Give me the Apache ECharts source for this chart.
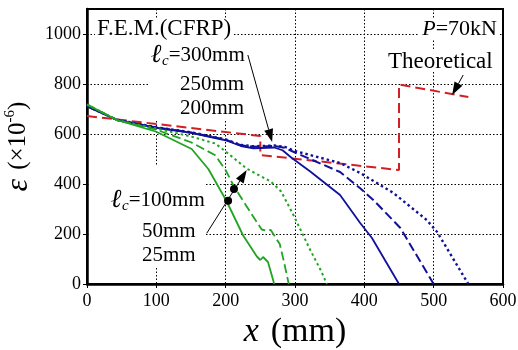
<!DOCTYPE html>
<html>
<head>
<meta charset="utf-8">
<script src="https://cdn.jsdelivr.net/npm/echarts@6/dist/echarts.min.js"></script>
<style>
  html, body { margin: 0; padding: 0; background: #fff; }
  #chart { width: 518px; height: 350px; }
</style>
</head>
<body>
<div id="chart"></div>
<script>
const xTicks = [0, 100, 200, 300, 400, 500, 600];
const yTicks = [0, 200, 400, 600, 800, 1000];
const yTop = 1100;

// theoretical (red dashed)
const theoX = [0, 250, 250, 450, 450, 550];
const theoY = [672, 592, 516, 456, 798, 748];

// F.E.M. blue group
const blueSolidX = [0, 43, 100, 150, 200, 222, 240, 270, 282, 295, 322, 365, 394, 411, 450];
const blueSolidY = [710, 656, 625, 605, 575, 552, 543, 546, 535, 505, 450, 356, 244, 184, 0];
const blueDashX = [0, 43, 100, 150, 200, 222, 240, 270, 285, 300, 365, 394, 413, 452, 500];
const blueDashY = [712, 657, 626, 606, 577, 555, 549, 552, 545, 526, 448, 383, 336, 224, 0];
const blueDotX = [0, 43, 100, 150, 200, 222, 240, 270, 285, 300, 365, 394, 442, 490, 505, 550];
const blueDotY = [712, 657, 627, 607, 578, 556, 551, 554, 549, 532, 484, 444, 364, 256, 208, 0];

// F.E.M. green group
const greenSolidX = [0, 43, 100, 151, 175, 201, 225, 245, 250, 254, 261, 266, 270];
const greenSolidY = [718, 656, 609, 540, 460, 333, 195, 110, 96, 108, 88, 40, 0];
const greenDashX = [0, 43, 100, 150, 185, 200, 212, 235, 252, 258, 265, 278, 284, 291];
const greenDashY = [718, 656, 617, 567, 515, 455, 390, 290, 218, 214, 216, 160, 90, 0];
const greenDotX = [0, 43, 100, 150, 185, 200, 230, 250, 265, 280, 297, 322, 338, 346];
const greenDotY = [718, 656, 622, 590, 562, 530, 462, 432, 410, 370, 280, 136, 50, 0];

// annotation arrows [fromX, fromY, toX, toY] and dots, in data units
const arrows = [[232, 916, 267, 568], [542.6, 836, 526.7, 756], [172.7, 203, 230.4, 456]];
const dots = [[203.5, 333], [212, 380]];

const RED = "#d21f26";
const BLUE = "#10109c";
const GREEN = "#22a322";
const FONT = "Liberation Serif";

function pairs(xs, ys) {
  return xs.map((x, i) => [x, ys[i]]);
}

function line(name, xs, ys, color, type, width) {
  return {
    name,
    type: "line",
    data: pairs(xs, ys),
    symbol: "none",
    z: 3,
    lineStyle: { color, type, width },
    itemStyle: { color },
  };
}

const chart = echarts.init(document.getElementById("chart"));

chart.setOption({
  animation: false,
  backgroundColor: "#fff",
  grid: {
    left: 87, right: 15, top: 9, bottom: 66,
    containLabel: false, outerBoundsMode: "none",
    show: true, borderColor: "#000", borderWidth: 2, backgroundColor: "transparent",
  },
  xAxis: {
    type: "value",
    min: xTicks[0],
    max: xTicks[xTicks.length - 1],
    interval: xTicks[1] - xTicks[0],
    name: "{x|x}{sp| }{t|(mm)}",
    nameLocation: "middle",
    nameGap: 27,
    nameTextStyle: {
      rich: {
        x: { fontFamily: FONT, fontSize: 34, fontStyle: "italic", color: "#000" },
        sp: { fontFamily: FONT, fontSize: 34, width: 12, color: "#000" },
        t: { fontFamily: FONT, fontSize: 34, color: "#000" },
      },
    },
    axisLine: { lineStyle: { color: "#000", width: 2.5 } },
    axisTick: { inside: false, length: 4, lineStyle: { color: "#000" } },
    axisLabel: { color: "#000", fontFamily: FONT, fontSize: 18, margin: 8, formatter: (v) => String(v) },
    splitLine: { lineStyle: { color: "#000", type: [1.5, 2], width: 1 } },
  },
  yAxis: {
    type: "value",
    min: yTicks[0],
    max: yTop,
    interval: yTicks[1] - yTicks[0],
    name: "{e|ε}{sp| }{t|(×10}{s|-6}{t|)}",
    nameLocation: "middle",
    nameRotate: 90,
    nameGap: 41,
    nameTextStyle: {
      rich: {
        e: { fontFamily: FONT, fontSize: 32, fontStyle: "italic", color: "#000" },
        sp: { fontFamily: FONT, fontSize: 25, width: 9, color: "#000" },
        t: { fontFamily: FONT, fontSize: 25, color: "#000" },
        s: { fontFamily: FONT, fontSize: 15, color: "#000", verticalAlign: "top", padding: [0, 0, 10, 0] },
      },
    },
    axisLine: { lineStyle: { color: "#000", width: 2.5 } },
    axisTick: { inside: false, length: 4, lineStyle: { color: "#000" } },
    axisLabel: { color: "#000", fontFamily: FONT, fontSize: 18, margin: 6, showMaxLabel: false, formatter: (v) => String(v) },
    splitLine: { lineStyle: { color: "#000", type: [1.5, 2], width: 1 } },
  },
  series: [
    line("Theoretical", theoX, theoY, RED, [10, 5], 2),
    line("blue solid", blueSolidX, blueSolidY, BLUE, "solid", 1.8),
    line("blue dashed", blueDashX, blueDashY, BLUE, [9, 4], 2),
    line("blue dotted", blueDotX, blueDotY, BLUE, [2.5, 3], 2.4),
    line("green solid", greenSolidX, greenSolidY, GREEN, "solid", 1.8),
    line("green dashed", greenDashX, greenDashY, GREEN, [9, 4], 1.8),
    line("green dotted", greenDotX, greenDotY, GREEN, [2.5, 3], 2),
  ],
});

function toPx(p) {
  return chart.convertToPixel({ gridIndex: 0 }, p);
}

function arrowShapes(a) {
  const p0 = toPx([a[0], a[1]]);
  const p1 = toPx([a[2], a[3]]);
  const dx = p1[0] - p0[0];
  const dy = p1[1] - p0[1];
  const len = Math.sqrt(dx * dx + dy * dy);
  const ux = dx / len;
  const uy = dy / len;
  const hl = 13;
  const hw = 4.5;
  const bx = p1[0] - ux * hl;
  const by = p1[1] - uy * hl;
  return [
    { type: "line", z: 10, shape: { x1: p0[0], y1: p0[1], x2: bx, y2: by }, style: { stroke: "#000", lineWidth: 1 } },
    {
      type: "polygon",
      z: 10,
      shape: { points: [[p1[0], p1[1]], [bx - uy * hw, by + ux * hw], [bx + uy * hw, by - ux * hw]] },
      style: { fill: "#000" },
    },
  ];
}

function label(x, y, text, rich, align) {
  return {
    type: "text",
    z: 8,
    x,
    y,
    style: { text, rich, align: align || "left", verticalAlign: "middle", fill: "#000", font: "23px " + FONT },
  };
}

const base = { fontFamily: FONT, fontSize: 21, fill: "#000", color: "#000" };
const lcRich = {
  l: { fontFamily: "DejaVu Serif", fontSize: 26, fontWeight: "bold", fontStyle: "italic", color: "#000" },
  c: { fontFamily: FONT, fontSize: 15, fontStyle: "italic", color: "#000", padding: [12, 0, 0, 0] },
  n: base,
};

const graphics = [
  { type: "rect", z: 1, shape: { x: 95, y: 18, width: 138, height: 22 }, style: { fill: "#fff" } },
  { type: "rect", z: 1, shape: { x: 150, y: 40, width: 138, height: 81 }, style: { fill: "#fff" } },
  { type: "rect", z: 1, shape: { x: 89, y: 165, width: 116, height: 101 }, style: { fill: "#fff" } },
  { type: "rect", z: 1, shape: { x: 384, y: 50, width: 110, height: 22 }, style: { fill: "#fff" } },
  { type: "rect", z: 1, shape: { x: 418, y: 18, width: 82, height: 22 }, style: { fill: "#fff" } },
  label(97, 29, "F.E.M.(CFRP)"),
  label(497, 29, "{p|P}{n|=70kN}", {
    p: { fontFamily: FONT, fontSize: 22, fontStyle: "italic", color: "#000" },
    n: { fontFamily: FONT, fontSize: 22, color: "#000" },
  }, "right"),
  label(388, 62, "Theoretical"),
  label(151, 55, "{l|ℓ}{c|c}{n|=300mm}", lcRich),
  label(180, 84, "{n|250mm}", { n: base }),
  label(180, 108, "{n|200mm}", { n: base }),
  label(111, 200, "{l|ℓ}{c|c}{n|=100mm}", lcRich),
  label(142, 231, "{n|50mm}", { n: base }),
  label(142, 255, "{n|25mm}", { n: base }),
];

arrows.forEach((a) => graphics.push(...arrowShapes(a)));
dots.forEach((d) => {
  const p = toPx(d);
  graphics.push({ type: "circle", z: 11, shape: { cx: p[0], cy: p[1], r: 4 }, style: { fill: "#000" } });
});

chart.setOption({ graphic: graphics });
</script>
</body>
</html>
